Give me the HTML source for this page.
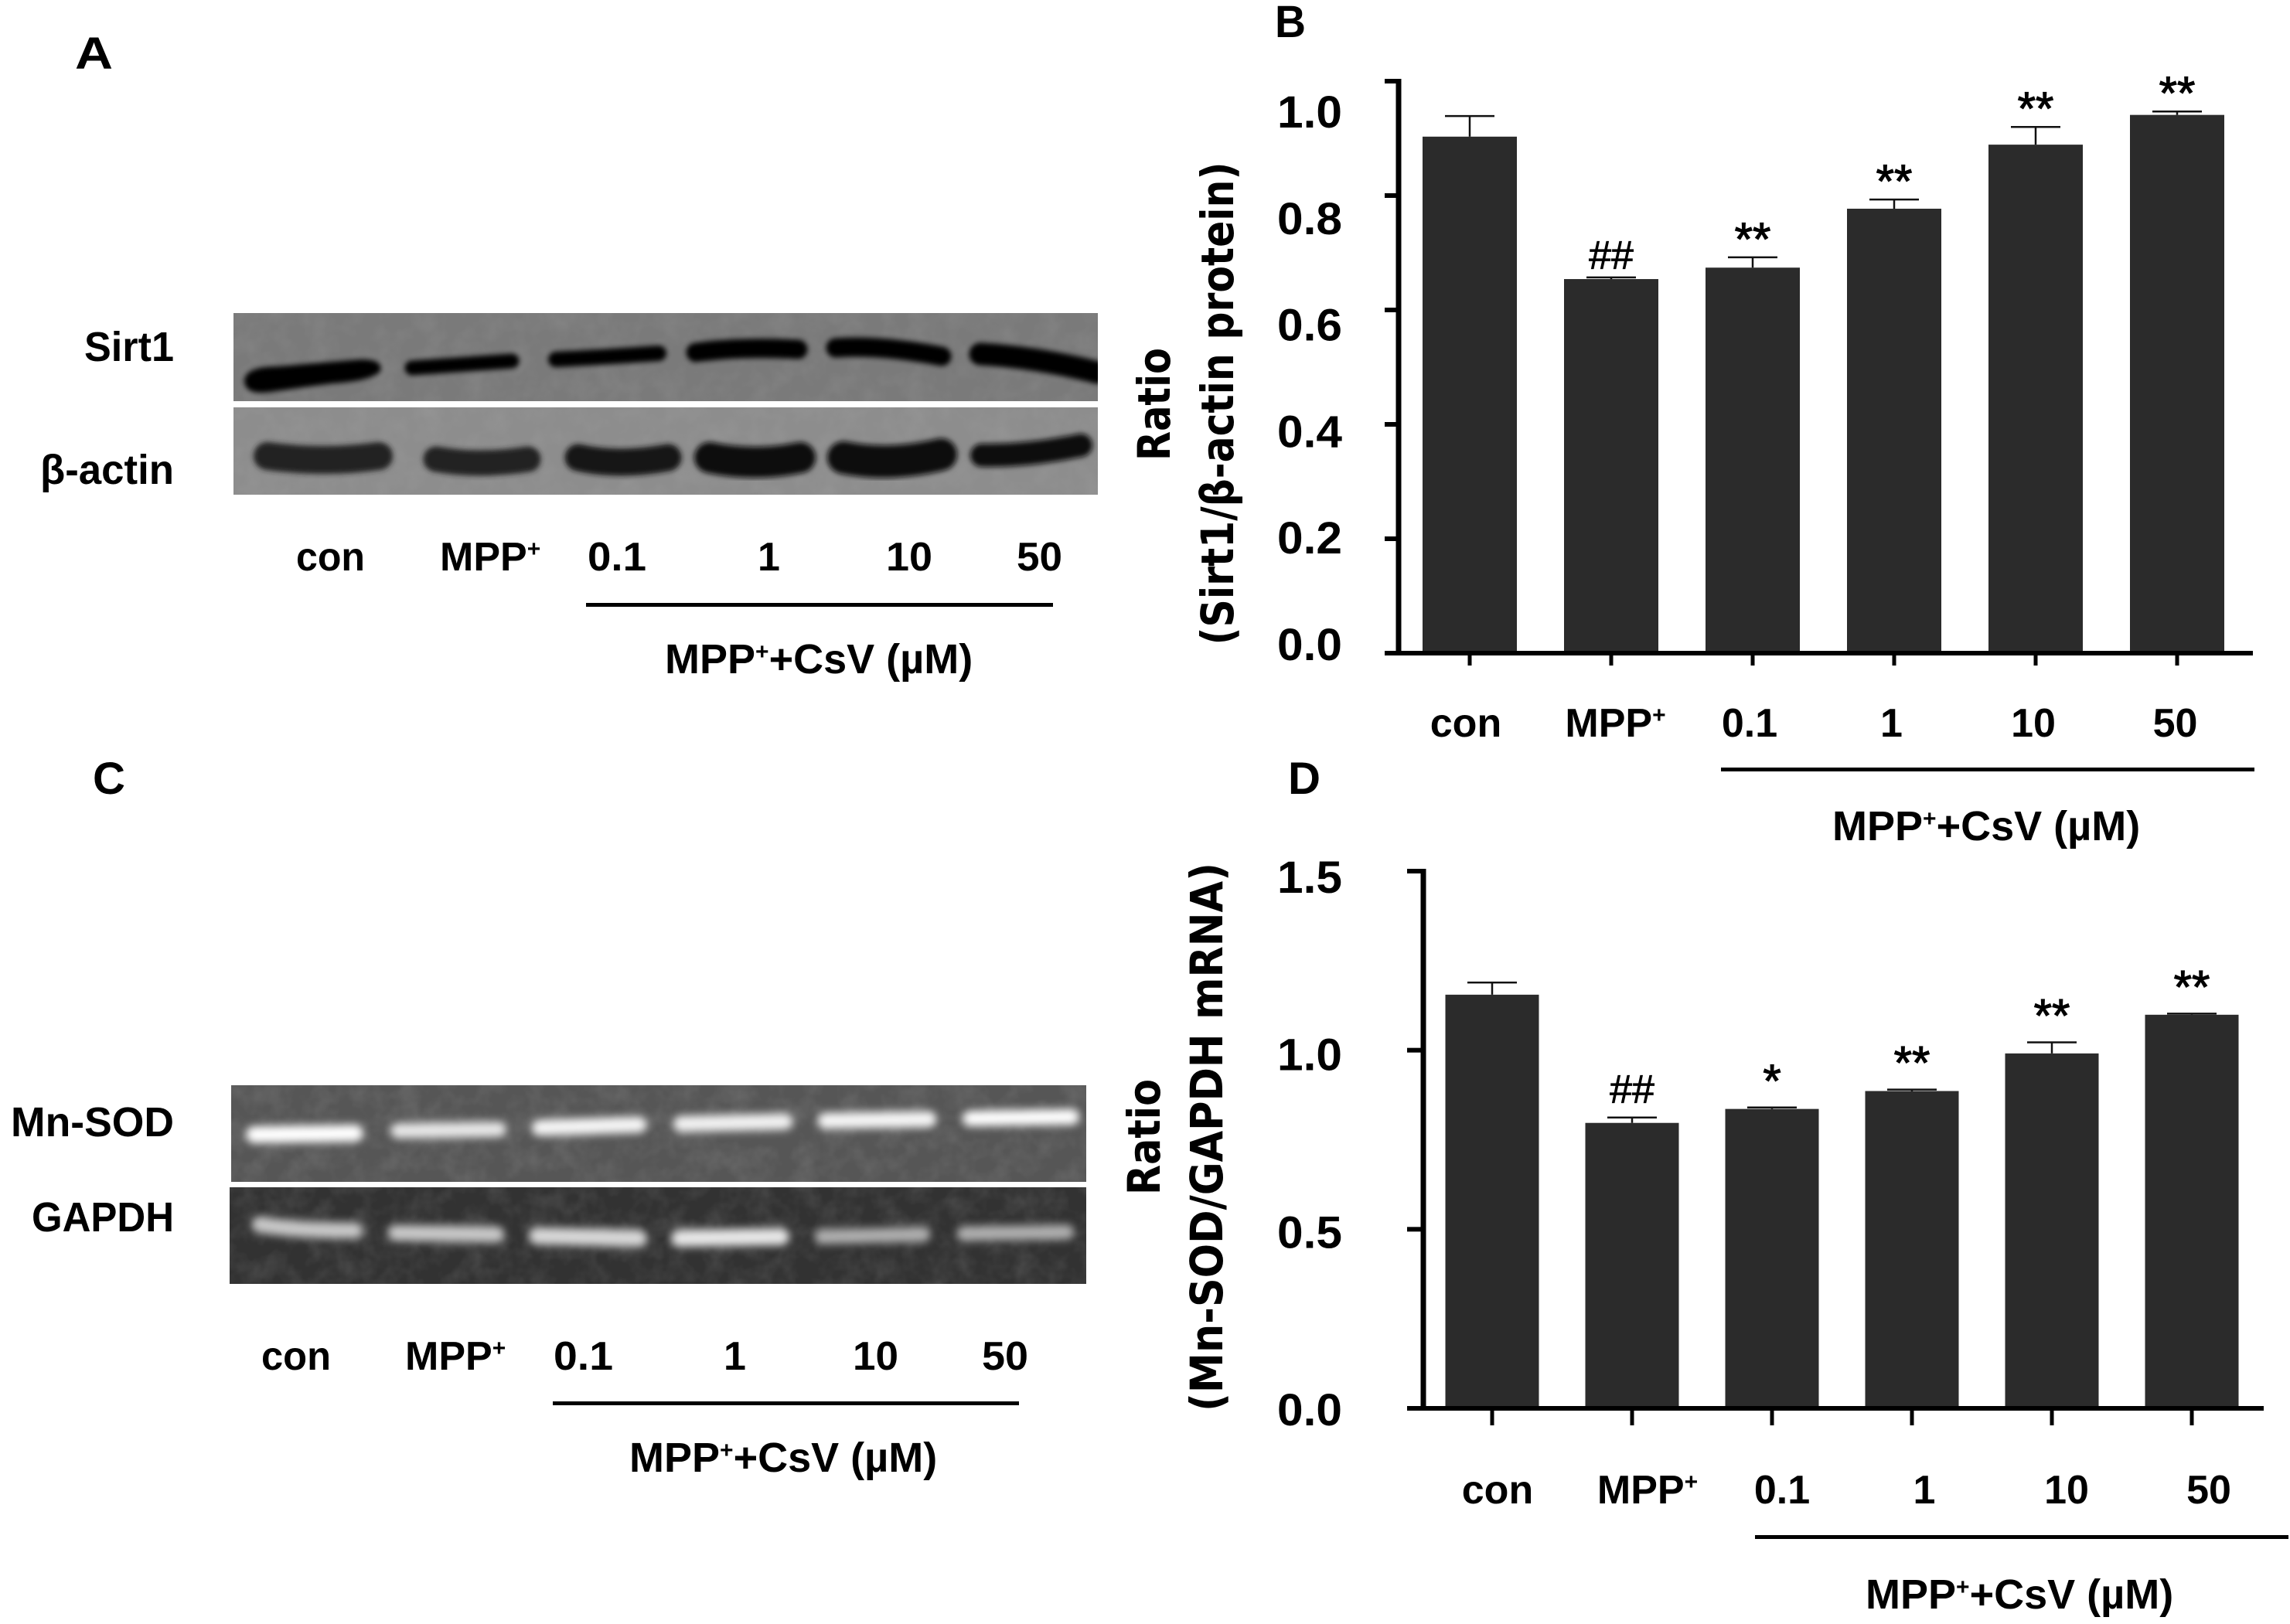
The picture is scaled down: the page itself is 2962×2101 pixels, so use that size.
<!DOCTYPE html>
<html lang="en">
<head>
<meta charset="utf-8">
<title>Sirt1 and Mn-SOD expression figure</title>
<style>
html,body{margin:0;padding:0;background:#fff;}
svg{display:block;}
text{font-family:"Liberation Sans",sans-serif;font-weight:700;fill:#000;}
.title{font-family:"DejaVu Sans",sans-serif;font-size:58px;}
.lbl{font-size:54px;}
.x{font-size:52px;}
.pl{font-size:58px;}
.bk{stroke-linecap:round;fill:none;}
</style>
</head>
<body>
<svg id="figure" xmlns="http://www.w3.org/2000/svg" width="2962" height="2101" viewBox="0 0 2962 2101">
<defs>
<filter id="soft" x="-10%" y="-100%" width="120%" height="300%"><feGaussianBlur stdDeviation="3.5"></feGaussianBlur></filter>
<filter id="softglow" x="-10%" y="-150%" width="120%" height="400%"><feGaussianBlur stdDeviation="5.5"></feGaussianBlur></filter>
<filter id="grain" x="0" y="0" width="100%" height="100%">
<feTurbulence type="fractalNoise" baseFrequency="0.035" numOctaves="3" seed="4"></feTurbulence>
<feColorMatrix type="matrix" values="0 0 0 0 0.5 0 0 0 0 0.5 0 0 0 0 0.5 1.2 0 0 0 -0.45"></feColorMatrix>
</filter>
</defs>
<rect width="2962" height="2101" fill="#fff"></rect>

<!-- Panel letters -->
<text class="pl" x="97" y="89" textLength="49" lengthAdjust="spacingAndGlyphs">A</text>
<text class="pl" x="1649" y="48" textLength="40" lengthAdjust="spacingAndGlyphs">B</text>
<text class="pl" x="120" y="1027" textLength="42" lengthAdjust="spacingAndGlyphs">C</text>
<text class="pl" x="1666" y="1027" textLength="42" lengthAdjust="spacingAndGlyphs">D</text>

<!-- Panel A western blot -->
<g>
<svg x="302" y="405" width="1118" height="114" viewBox="302 405 1118 114">
<rect x="302" y="405" width="1118" height="114" fill="#7a7a7a"></rect>
<rect x="302" y="405" width="1118" height="114" filter="url(#grain)" opacity=".2"></rect>
<g filter="url(#soft)" stroke="#050505" class="bk">
<path d="M316,492 Q318,474 360,474 L465,465 Q496,464 492,480 Q480,493 430,496 L350,507 Q316,512 316,492 Z" fill="#020202" stroke="none"></path>
<path d="M533,476 L662,467" stroke-width="19"></path>
<path d="M719,465 Q780,462 852,457" stroke-width="20"></path>
<path d="M900,456 Q960,448 1032,452" stroke-width="25"></path>
<path d="M1081,450 Q1140,446 1218,461" stroke-width="25"></path>
<path d="M1268,458 Q1340,462 1420,482" stroke-width="29"></path>
</g>
</svg>
<svg x="302" y="527" width="1118" height="113" viewBox="302 527 1118 113">
<rect x="302" y="527" width="1118" height="113" fill="#8d8d8d"></rect>
<rect x="302" y="527" width="1118" height="113" filter="url(#grain)" opacity=".2"></rect>
<g filter="url(#soft)" stroke="#222" class="bk">
<path d="M346,590 Q420,600 490,590" stroke-width="36"></path>
<path d="M564,594 Q620,604 683,594" stroke-width="33"></path>
<path d="M748,592 Q800,604 864,592" stroke-width="35" stroke="#161616"></path>
<path d="M918,592 Q975,604 1035,592" stroke-width="40" stroke="#101010"></path>
<path d="M1091,592 Q1150,604 1217,588" stroke-width="42" stroke="#101010"></path>
<path d="M1270,589 Q1330,590 1398,576" stroke-width="30" stroke="#101010"></path>
</g>
</svg>
</g>
<text class="lbl" x="109" y="467" textLength="116" lengthAdjust="spacingAndGlyphs">Sirt1</text>
<text class="lbl" x="52" y="626" textLength="173" lengthAdjust="spacingAndGlyphs">β-actin</text>
<text class="x" x="383" y="738" textLength="89" lengthAdjust="spacingAndGlyphs">con</text>
<text class="x" x="569" y="738">MPP<tspan dy="-18" font-size="30">+</tspan></text>
<text class="x" x="760" y="738" textLength="76" lengthAdjust="spacingAndGlyphs">0.1</text>
<text class="x" x="980" y="738">1</text>
<text class="x" x="1146" y="738" textLength="60" lengthAdjust="spacingAndGlyphs">10</text>
<text class="x" x="1315" y="738" textLength="59" lengthAdjust="spacingAndGlyphs">50</text>
<rect x="758" y="780" width="604" height="5" fill="#000"></rect>
<text class="lbl" x="860" y="871">MPP<tspan dy="-18" font-size="30">+</tspan><tspan dy="18">+CsV (µM)</tspan></text>

<!-- Panel C gel -->
<g>
<svg x="299" y="1404" width="1106" height="125" viewBox="299 1404 1106 125">
<rect x="299" y="1404" width="1106" height="125" fill="#565656"></rect>
<rect x="299" y="1404" width="1106" height="125" filter="url(#grain)" opacity=".25"></rect>
<g filter="url(#softglow)" class="bk" stroke="#ffffff">
<path d="M329,1468 L459,1466" stroke-width="22"></path>
<path d="M515,1463 L645,1461" stroke-width="20" stroke="#e8e8e8"></path>
<path d="M698,1459 L826,1455" stroke-width="21" stroke="#f6f6f6"></path>
<path d="M881,1454 L1015,1451" stroke-width="21" stroke="#f2f2f2"></path>
<path d="M1068,1450 L1201,1448" stroke-width="21" stroke="#f6f6f6"></path>
<path d="M1255,1447 L1386,1445" stroke-width="20"></path>
</g>
</svg>
<svg x="297" y="1536" width="1108" height="125" viewBox="297 1536 1108 125">
<rect x="297" y="1536" width="1108" height="125" fill="#323232"></rect>
<rect x="297" y="1536" width="1108" height="125" filter="url(#grain)" opacity=".25"></rect>
<g filter="url(#softglow)" class="bk" stroke="#c8c8c8">
<path d="M336,1584 Q380,1592 459,1592" stroke-width="21"></path>
<path d="M512,1595 L642,1597" stroke-width="21"></path>
<path d="M695,1599 L826,1602" stroke-width="22" stroke="#d8d8d8"></path>
<path d="M879,1602 L1010,1600" stroke-width="22" stroke="#e8e8e8"></path>
<path d="M1063,1600 L1194,1597" stroke-width="19" stroke="#b0b0b0"></path>
<path d="M1247,1596 L1380,1594" stroke-width="19" stroke="#b0b0b0"></path>
</g>
</svg>
</g>
<text class="lbl" x="14" y="1470" textLength="211" lengthAdjust="spacingAndGlyphs">Mn-SOD</text>
<text class="lbl" x="41" y="1593" textLength="184" lengthAdjust="spacingAndGlyphs">GAPDH</text>
<text class="x" x="338" y="1772" textLength="90" lengthAdjust="spacingAndGlyphs">con</text>
<text class="x" x="524" y="1772">MPP<tspan dy="-18" font-size="30">+</tspan></text>
<text class="x" x="716" y="1772" textLength="77" lengthAdjust="spacingAndGlyphs">0.1</text>
<text class="x" x="936" y="1772">1</text>
<text class="x" x="1103" y="1772" textLength="59" lengthAdjust="spacingAndGlyphs">10</text>
<text class="x" x="1270" y="1772" textLength="60" lengthAdjust="spacingAndGlyphs">50</text>
<rect x="715" y="1813" width="603" height="5" fill="#000"></rect>
<text class="lbl" x="814" y="1904">MPP<tspan dy="-18" font-size="30">+</tspan><tspan dy="18">+CsV (µM)</tspan></text>

<!-- Panel B static labels -->
<text class="title" transform="translate(1513,523) rotate(-90)" text-anchor="middle" textLength="146" lengthAdjust="spacingAndGlyphs">Ratio</text>
<text class="title" transform="translate(1595,522) rotate(-90)" text-anchor="middle" textLength="625" lengthAdjust="spacingAndGlyphs">(Sirt1/β-actin protein)</text>
<rect x="2226" y="993" width="690" height="5" fill="#000"></rect>
<text class="lbl" x="2370" y="1087">MPP<tspan dy="-18" font-size="30">+</tspan><tspan dy="18">+CsV (µM)</tspan></text>
<g id="panel-b"></g>

<!-- Panel D static labels -->
<text class="title" transform="translate(1500,1471) rotate(-90)" text-anchor="middle" textLength="150" lengthAdjust="spacingAndGlyphs">Ratio</text>
<text class="title" transform="translate(1581,1471) rotate(-90)" text-anchor="middle" textLength="710" lengthAdjust="spacingAndGlyphs">(Mn-SOD/GAPDH mRNA)</text>
<rect x="2270" y="1986" width="690" height="5" fill="#000"></rect>
<text class="lbl" x="2413" y="2081">MPP<tspan dy="-18" font-size="30">+</tspan><tspan dy="18">+CsV (µM)</tspan></text>
<g id="panel-d"></g>
</svg>

<script>
const categories = ['con', 'MPP', '0.1', '1', '10', '50'];

const sirt1Values = [0.903, 0.654, 0.674, 0.777, 0.889, 0.941];
const sirt1Errors = [0.036, 0.003, 0.018, 0.016, 0.031, 0.006];
const sirt1Marks = ['', '##', '**', '**', '**', '**'];
const sirt1Ticks = [0, 0.2, 0.4, 0.6, 0.8, 1.0];
const sirt1TickLabels = ['0.0', '0.2', '0.4', '0.6', '0.8', '1.0'];

const sodValues = [1.155, 0.797, 0.836, 0.886, 0.991, 1.099];
const sodErrors = [0.034, 0.015, 0.004, 0.004, 0.031, 0.003];
const sodMarks = ['', '##', '*', '**', '**', '**'];
const sodTicks = [0, 0.5, 1.0, 1.5];
const sodTickLabels = ['0.0', '0.5', '1.0', '1.5'];

const SVG_NS = 'http://www.w3.org/2000/svg';

function make(tag, attrs, parent) {
  const node = document.createElementNS(SVG_NS, tag);
  Object.keys(attrs).forEach(function (k) { node.setAttribute(k, attrs[k]); });
  parent.appendChild(node);
  return node;
}

function drawChart(root, values, errors, marks, ticks, tickLabels, layout) {
  const yScale = function (v) { return layout.y0 - (v / layout.yMax) * (layout.y0 - layout.yTop); };
  const xScale = function (i) { return layout.x0 + layout.step * i; };
  const labelY = function (v) { return layout.labelY0 - (v / layout.yMax) * (layout.labelY0 - layout.labelYTop); };
  const labelX = function (i) { return layout.labelX0 + layout.labelStep * i; };

  categories.forEach(function (cat, i) {
    const top = yScale(values[i]);
    const errTop = yScale(values[i] + errors[i]);
    const cx = xScale(i);

    const bar = make('rect', { x: cx - layout.barW / 2, y: top, width: layout.barW, height: layout.y0 - top, fill: '#2b2b2b' }, root);
    
    

    const stem = make('line', { x1: cx, x2: cx, y1: top, y2: errTop, stroke: '#111', 'stroke-width': 2.5 }, root);
    
    

    const cap = make('line', { x1: cx - 32, x2: cx + 32, y1: errTop, y2: errTop, stroke: '#111', 'stroke-width': 2.5 }, root);
    
    

    const xTick = make('rect', { x: cx - 2.5, y: layout.y0, width: 5, height: layout.xTickLen, fill: '#000' }, root);
    
    

    const shift = cat === 'MPP' ? 10 : 0;
    const xLabel = make('text', { x: labelX(i) + shift, y: layout.xLabelY, 'text-anchor': 'middle', 'font-size': 52 }, root);
    
    
    xLabel.textContent = cat;
    if (cat === 'MPP') {
      const plus = make('tspan', { dy: -18, 'font-size': 30 }, xLabel);
      plus.textContent = '+';
    }

    if (marks[i]) {
      const isHash = marks[i] === '##';
      const gap = isHash ? layout.hashGap : layout.starGap;
      const mark = make('text', {
        x: cx, y: errTop - gap + (isHash ? 36 : 41),
        'text-anchor': 'middle',
        'font-size': isHash ? 52 : 60
      }, root);
      
      
      mark.style.fontWeight = '400';
      mark.style.stroke = '#000';
      mark.style.strokeWidth = isHash ? '0.8' : '1.2';
      mark.textContent = marks[i];
    }
  });

  const yAxis = make('rect', { x: layout.axisX - 3.5, y: layout.yTop - 3, width: 7, height: layout.y0 - layout.yTop + 6, fill: '#000' }, root);
  
  

  const xAxis = make('rect', { x: layout.axisX - layout.yTickLen - 3, y: layout.y0 - 3, width: layout.axisEnd - layout.axisX + layout.yTickLen + 3, height: 6, fill: '#000' }, root);
  
  

  ticks.forEach(function (t, i) {
    const yTick = make('rect', { x: layout.axisX - layout.yTickLen - 3, y: yScale(t) - 3, width: layout.yTickLen + 3, height: 6, fill: '#000' }, root);
    
    

    const yLabel = make('text', { x: 1652, y: labelY(t), 'font-size': 58, textLength: 84, lengthAdjust: 'spacingAndGlyphs' }, root);
    
    
    yLabel.textContent = tickLabels[i];
  });
}

drawChart(document.getElementById('panel-b'), sirt1Values, sirt1Errors, sirt1Marks, sirt1Ticks, sirt1TickLabels, {
  y0: 845, yTop: 105, yMax: 1.0, x0: 1901, step: 183, barW: 122,
  axisX: 1809, axisEnd: 2914, yTickLen: 15, xTickLen: 16,
  labelY0: 854, labelYTop: 165, labelX0: 1896, labelStep: 183.5, xLabelY: 953,
  starGap: 44, hashGap: 47
});

drawChart(document.getElementById('panel-d'), sodValues, sodErrors, sodMarks, sodTicks, sodTickLabels, {
  y0: 1822, yTop: 1127, yMax: 1.5, x0: 1930, step: 181, barW: 121,
  axisX: 1841, axisEnd: 2928, yTickLen: 18, xTickLen: 22,
  labelY0: 1844, labelYTop: 1155, labelX0: 1937, labelStep: 184, xLabelY: 1945,
  starGap: 55, hashGap: 55
});
</script>
</body>
</html>
